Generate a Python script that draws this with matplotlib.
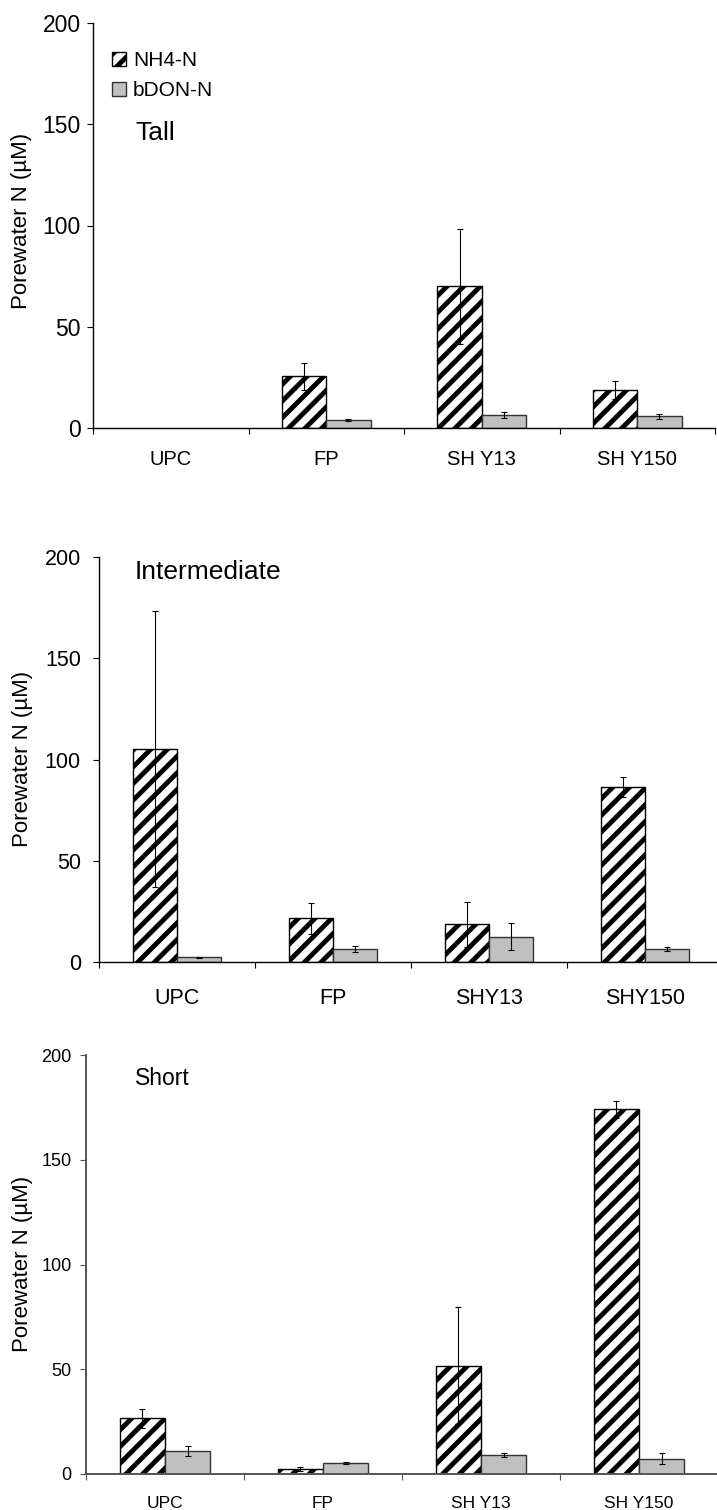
import numpy as np
import matplotlib
matplotlib.use("Agg")
import matplotlib.pyplot as plt
from matplotlib.ticker import FixedLocator, NullFormatter, FixedFormatter

plt.rcParams['font.family'] = ['Liberation Sans', 'DejaVu Sans']
plt.rcParams['hatch.linewidth'] = 3.5
plt.rcParams['hatch.color'] = 'black'

# porewater N (uM), mean and error, per marsh zone
tall_labels = ['UPC', 'FP', 'SH Y13', 'SH Y150']
tall_nh4 = [np.nan, 25.6, 69.9, 18.9]
tall_nh4_err = [np.nan, 6.7, 28.4, 4.4]
tall_don = [np.nan, 4.1, 6.5, 5.8]
tall_don_err = [np.nan, 0.4, 1.4, 1.3]

inter_labels = ['UPC', 'FP', 'SHY13', 'SHY150']
inter_nh4 = [105.2, 21.5, 18.6, 86.6]
inter_nh4_err = [68.0, 7.5, 11.0, 5.0]
inter_don = [2.3, 6.6, 12.5, 6.4]
inter_don_err = [0.3, 1.5, 6.7, 1.0]

short_labels = ['UPC', 'FP', 'SH Y13', 'SH Y150']
short_nh4 = [26.6, 2.4, 51.7, 174.1]
short_nh4_err = [4.6, 0.8, 27.8, 4.1]
short_don = [11.1, 5.1, 8.9, 7.3]
short_don_err = [2.3, 0.4, 1.0, 2.6]

W, H = 717, 1510
BAR_W = 0.285
fig = plt.figure(figsize=(W / 100, H / 100), dpi=100)


def add_panel(left, right, top, bottom):
    return fig.add_axes([left / W, 1 - bottom / H, (right - left) / W, (bottom - top) / H])


def draw_panel(ax, labels, nh4, nh4_err, don, don_err, tick_fs, cat_fs,
               ypad, xpad, spine_col='black', spine_lw=1.0):
    centers = np.arange(len(labels)) + 0.5
    nh4 = np.asarray(nh4, float)
    don = np.asarray(don, float)
    ok = ~np.isnan(nh4)
    x1 = centers[ok] - BAR_W / 2
    x2 = centers[ok] + BAR_W / 2
    b1 = ax.bar(x1, nh4[ok], BAR_W, color='white', edgecolor='black',
                hatch='//', linewidth=1.0, label='NH4-N', zorder=2)
    b2 = ax.bar(x2, don[ok], BAR_W, color='#c0c0c0', edgecolor='#333333',
                linewidth=1.0, label='bDON-N', zorder=2)
    ax.errorbar(x1, nh4[ok], yerr=np.asarray(nh4_err, float)[ok], fmt='none',
                ecolor='black', elinewidth=0.8, capsize=2.5, capthick=0.8, zorder=3)
    ax.errorbar(x2, don[ok], yerr=np.asarray(don_err, float)[ok], fmt='none',
                ecolor='black', elinewidth=0.8, capsize=2.5, capthick=0.8, zorder=3)

    ax.set_xlim(0, len(labels))
    ax.set_ylim(0, 200)
    ax.set_yticks([0, 50, 100, 150, 200])
    ax.tick_params(axis='y', direction='out', length=4.5, width=0.8,
                   labelsize=tick_fs, pad=ypad, colors=spine_col, labelcolor='black')

    # boundary ticks between categories, names centred under each group
    ax.xaxis.set_major_locator(FixedLocator(np.arange(len(labels) + 1)))
    ax.xaxis.set_major_formatter(NullFormatter())
    ax.xaxis.set_minor_locator(FixedLocator(centers))
    ax.xaxis.set_minor_formatter(FixedFormatter(labels))
    ax.tick_params(axis='x', which='major', direction='out', length=4.5,
                   width=0.8, colors=spine_col)
    ax.tick_params(axis='x', which='minor', length=0, labelsize=cat_fs, pad=xpad)

    for s in ['top', 'right']:
        ax.spines[s].set_visible(False)
    for s in ['left', 'bottom']:
        ax.spines[s].set_color(spine_col)
        ax.spines[s].set_linewidth(spine_lw)
    return b1, b2


def set_ylabel(ax, left, right, top, bottom, x_px, y_px):
    ax.set_ylabel('Porewater N (\u00b5M)', fontsize=16, va='center')
    ax.yaxis.set_label_coords((x_px - left) / (right - left),
                              (bottom - y_px) / (bottom - top))


# Tall
p1 = (93, 715, 23, 428)
ax1 = add_panel(*p1)
h1, h2 = draw_panel(ax1, tall_labels, tall_nh4, tall_nh4_err, tall_don, tall_don_err,
                    16.5, 14.5, 4.3, 15.5)
set_ylabel(ax1, *p1, 22, 221)
ax1.text(0.27, 145.7, 'Tall', fontsize=19, va='center', ha='left')
ax1.legend(handles=[h1, h2], loc='upper left', bbox_to_anchor=(112 / W, 1 - 51 / H),
           bbox_transform=fig.transFigure, frameon=False, fontsize=15,
           handlelength=0.65, handleheight=0.65, handletextpad=0.35,
           labelspacing=0.55, borderpad=0, borderaxespad=0)

# Intermediate
p2 = (99, 723, 557, 962)
ax2 = add_panel(*p2)
draw_panel(ax2, inter_labels, inter_nh4, inter_nh4_err, inter_don, inter_don_err,
           15.5, 15.5, 8.6, 18.5)
set_ylabel(ax2, *p2, 23, 759)
ax2.text(0.23, 192.5, 'Intermediate', fontsize=19, va='center', ha='left')

# Short
p3 = (86, 718, 1055, 1474)
ax3 = add_panel(*p3)
draw_panel(ax3, short_labels, short_nh4, short_nh4_err, short_don, short_don_err,
           13, 12.5, 5.8, 15.5, spine_col='#555555', spine_lw=1.4)
set_ylabel(ax3, *p3, 23, 1264)
ax3.text(0.31, 189, 'Short', fontsize=16.5, va='center', ha='left')

fig.savefig('out.png', dpi=100)
